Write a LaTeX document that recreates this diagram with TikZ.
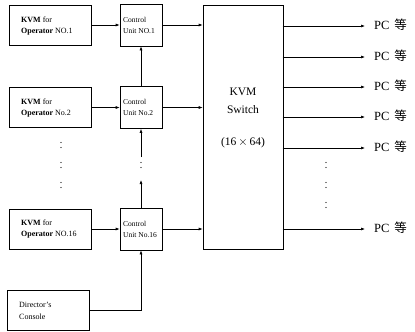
\documentclass[tikz,border=0pt]{standalone}
\usepackage{fontspec}
\setmainfont{Liberation Serif}
\newfontfamily\cjk{Noto Sans CJK SC}
\usetikzlibrary{arrows.meta}
\begin{document}
\begin{tikzpicture}[x=1pt,y=-1pt,
  opbox/.style={draw, line width=0.9pt, minimum width=82pt, minimum height=40pt, inner sep=0pt},
  cubox/.style={draw, line width=0.6pt, minimum width=42pt, minimum height=42pt, inner sep=0pt},
  optext/.style={font=\fontsize{8}{10}\selectfont, align=left, anchor=west, inner sep=0pt},
  cutext/.style={font=\fontsize{7.5}{9.5}\selectfont, align=left, anchor=west, inner sep=0pt},
  swtext/.style={font=\fontsize{11.5}{13}\selectfont, inner sep=0pt},
  conn/.style={line width=0.6pt},
  arr/.style={conn, -{Latex[length=4pt,width=3pt]}},
  pclabel/.style={font=\fontsize{12.5}{14}\selectfont, anchor=west, inner sep=0pt},
  dotc/.style={fill=black, circle, inner sep=0pt, minimum size=1.4pt}
]
\useasboundingbox (0,0) rectangle (415,332);

% operator boxes
\node[opbox] (op1) at (50,25) {};
\node[opbox] (op2) at (50,107.5) {};
\node[opbox] (op16) at (50,229) {};
\node[opbox] (dir) at (48,310) {};
\node[optext] at (21,19.5) {\textbf{KVM} for};
\node[optext] at (21,31.5) {\textbf{Operator} NO.1};
\node[optext] at (21,101.5) {\textbf{KVM} for};
\node[optext] at (21,113.5) {\textbf{Operator} No.2};
\node[optext] at (21,223) {\textbf{KVM} for};
\node[optext] at (21,235) {\textbf{Operator} NO.16};
\node[optext] at (19,304.5) {Director's};
\node[optext] at (19,316.5) {Console};

% control units
\node[cubox] (cu1) at (141,25) {};
\node[cubox] (cu2) at (141,107.5) {};
\node[cubox] (cu16) at (141,229) {};
\node[cutext] at (123,19.5) {Control};
\node[cutext] at (123,31) {Unit NO.1};
\node[cutext] at (123,102) {Control};
\node[cutext] at (123,113.5) {Unit No.2};
\node[cutext] at (123,223.5) {Control};
\node[cutext] at (123,235) {Unit No.16};

% switch
\node[draw, line width=0.6pt, minimum width=80pt, minimum height=244pt, inner sep=0pt] (sw) at (243,127) {};
\node[swtext] at (243,92) {KVM};
\node[swtext] at (243,110) {Switch};
\node[swtext] at (243,143) {(16\,$\times$\,64)};

% horizontal connectors
\draw[arr] (op1.east) -- (cu1.west);
\draw[arr] (op2.east) -- (cu2.west);
\draw[arr] (op16.east) -- (cu16.west);
\draw[arr] (cu1.east) -- (cu1.east -| sw.west);
\draw[arr] (cu2.east) -- (cu2.east -| sw.west);
\draw[arr] (cu16.east) -- (cu16.east -| sw.west);

% vertical connectors
\draw[arr] (cu2.north) -- (cu1.south);
\coordinate (gapB) at (141,180);
\coordinate (gapT) at (141,157);
\draw[arr] (cu16.north) -- (gapB);
\draw[arr] (gapT) -- (cu2.south);
\node[dotc] at (141,162.5) {};
\node[dotc] at (141,167.5) {};
\coordinate (dirc) at (141,310);
\draw[arr] (dir.east) -- (dirc) -- (cu16.south);

% left dots
\foreach \y in {145,165,185} {
  \node[dotc] at (61,\y-2.5) {};
  \node[dotc] at (61,\y+2.5) {};
}
% right dots
\foreach \y in {165,185,205} {
  \node[dotc] at (326,\y-2.5) {};
  \node[dotc] at (326,\y+2.5) {};
}

% outputs
\foreach \i/\y in {1/26,2/57,3/87,4/117,5/148,6/229} {
  \coordinate (o\i) at (365,\y);
  \draw[arr] (sw.west |- o\i) ++(80,0) -- (o\i);
  \node[pclabel] (pc\i) at (374,\y-1) {PC\hspace{0.4em}{\cjk 等}};
}
\end{tikzpicture}
\end{document}
